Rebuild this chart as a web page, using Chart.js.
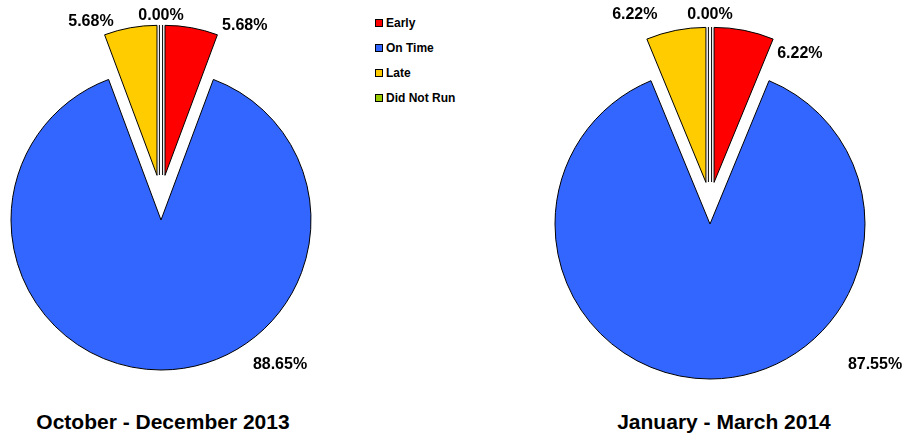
<!DOCTYPE html>
<html>
<head>
<meta charset="utf-8">
<script src="https://cdn.jsdelivr.net/npm/chart.js@4.4.1/dist/chart.umd.min.js"></script>
<style>
  body { margin: 0; background: #fff; font-family: "Liberation Sans", Arial, sans-serif; }
  #wrap { position: relative; width: 906px; height: 436px; overflow: hidden; }
  canvas { position: absolute; top: 0; }
  #pieLeft { left: 0; }
  #pieRight { left: 514px; }
  .period { position: absolute; top: 410px; font-size: 21px; font-weight: bold; line-height: 24px; text-align: center; color: #000; }
  #legend { position: absolute; left: 375px; top: 10px; }
  .item { display: flex; align-items: center; height: 25px; font-size: 12px; font-weight: bold; color: #000; }
  .box { width: 6px; height: 6px; border: 1px solid #000; margin-right: 3px; }
</style>
</head>
<body>
<div id="wrap">
  <canvas id="pieLeft" width="322" height="395"></canvas>
  <canvas id="pieRight" width="392" height="406"></canvas>
  <div id="legend"></div>
  <div class="period" id="titleLeft" style="left:0;width:326px;"></div>
  <div class="period" id="titleRight" style="left:542px;width:364px;"></div>
</div>
<script>
// Categorias e percentuais de cada trimestre
const categories = ['Early', 'On Time', 'Late', 'Did Not Run'];
const octDec2013 = [5.68, 88.65, 5.68, 0.00];
const janMar2014 = [6.22, 87.55, 6.22, 0.00];
const periodTitles = ['October - December 2013', 'January - March 2014'];

const sliceColors = ['#FF0000', '#3366FF', '#FFCC00', '#99CC00'];

// Legenda compartilhada
const legendEl = document.getElementById('legend');
categories.forEach((name, i) => {
    const row = document.createElement('div');
    row.className = 'item';
    row.innerHTML = '<span class="box" style="background:' + sliceColors[i] + '"></span>' + name;
    legendEl.appendChild(row);
});
document.getElementById('titleLeft').textContent = periodTitles[0];
document.getElementById('titleRight').textContent = periodTitles[1];

// Afasta cada fatia do centro ao longo da sua bissetriz
const explodePlugin = {
    id: 'explode',
    afterDatasetUpdate(chart, args, opts) {
        args.meta.data.forEach(arc => {
            const mid = (arc.startAngle + arc.endAngle) / 2;
            arc.x += Math.cos(mid) * opts.distance;
            arc.y += Math.sin(mid) * opts.distance;
        });
    }
};

// Fatia de valor zero: o Chart.js não desenha, então traçamos a linha dupla
const zeroSlicePlugin = {
    id: 'zeroSlice',
    afterDatasetsDraw(chart) {
        const ctx = chart.ctx;
        ctx.save();
        ctx.strokeStyle = '#000';
        ctx.lineWidth = 1;
        chart.getDatasetMeta(0).data.forEach(arc => {
            if (arc.endAngle - arc.startAngle > 0) return;
            const a = arc.startAngle;
            const px = -Math.sin(a) * 1.6, py = Math.cos(a) * 1.6;
            [-1, 1].forEach(s => {
                ctx.beginPath();
                ctx.moveTo(arc.x + px * s, arc.y + py * s);
                ctx.lineTo(arc.x + px * s + Math.cos(a) * arc.outerRadius, arc.y + py * s + Math.sin(a) * arc.outerRadius);
                ctx.stroke();
            });
        });
        ctx.restore();
    }
};

// Rótulos percentuais; spots = [ângulo em graus a partir do topo, distância]
const pctLabelPlugin = {
    id: 'pctLabels',
    afterDatasetsDraw(chart, args, opts) {
        const ctx = chart.ctx;
        const values = chart.data.datasets[0].data;
        ctx.save();
        ctx.font = 'bold 16px "Liberation Sans", Arial, sans-serif';
        ctx.fillStyle = '#000';
        ctx.textAlign = 'center';
        ctx.textBaseline = 'middle';
        chart.getDatasetMeta(0).data.forEach((arc, i) => {
            const [deg, dist] = opts.spots[i];
            const a = deg * Math.PI / 180;
            ctx.fillText(values[i].toFixed(2) + '%', arc.x + Math.sin(a) * dist, arc.y - Math.cos(a) * dist);
        });
        ctx.restore();
    }
};

function makePie(canvasId, values, radius, distance, spots) {
    return new Chart(document.getElementById(canvasId), {
        type: 'pie',
        data: {
            labels: categories,
            datasets: [{
                data: values,
                backgroundColor: sliceColors,
                borderColor: '#000',
                borderWidth: 1
            }]
        },
        options: {
            responsive: false,
            animation: false,
            events: [],
            radius: radius,
            layout: { padding: 0 },
            plugins: {
                legend: { display: false },
                tooltip: { enabled: false },
                explode: { distance: distance },
                pctLabels: { spots: spots }
            }
        },
        plugins: [explodePlugin, zeroSlicePlugin, pctLabelPlugin]
    });
}

makePie('pieLeft', octDec2013, 150, 22.5, [[28, 170], [140.6, 187.5], [-23.3, 167], [0, 159]]);
makePie('pieRight', janMar2014, 155, 21, [[33.6, 155], [130.5, 217], [-23, 182], [0, 167]]);
</script>
</body>
</html>
